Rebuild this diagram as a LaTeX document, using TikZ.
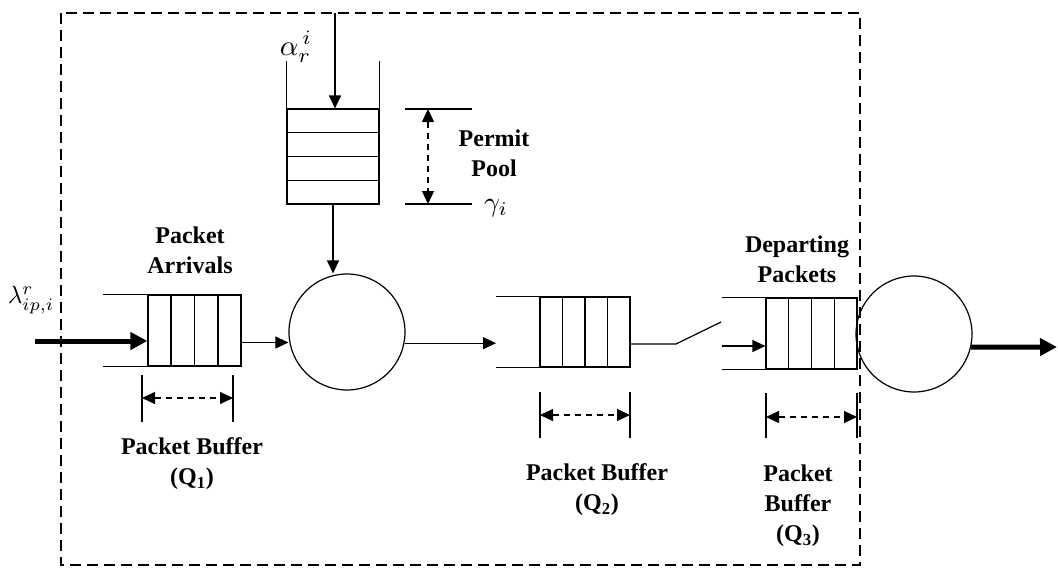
\documentclass[tikz,border=0pt]{standalone}
\usepackage{fontspec}
\setmainfont{Liberation Serif}
\usetikzlibrary{arrows.meta,calc}
\begin{document}
\begin{tikzpicture}[x=1pt,y=-1pt,line width=1.2pt,
 lbl/.style={font=\fontsize{24}{30}\selectfont\bfseries,align=center,inner sep=0pt},
 mlbl/.style={inner sep=0pt},
 qbox/.style={draw,minimum width=92pt,minimum height=71pt,inner sep=0pt},
 pbox/.style={draw,minimum width=92pt,minimum height=95pt,inner sep=0pt},
 srv/.style={draw,circle,minimum size=116pt,inner sep=0pt},
 arr/.style={-{Triangle[length=13pt,width=12pt]}},
 thk/.style={line width=5pt,-{Triangle[length=17pt,width=17pt]}},
 dimarr/.style={dash pattern=on 6pt off 5pt,{Triangle[length=13pt,width=12pt]}-{Triangle[length=13pt,width=12pt]}},
 bound/.style={dash pattern=on 11pt off 6pt,line width=1.2pt}]
\useasboundingbox (0,0) rectangle (1058,570);

% boundary
\draw[bound] (61,13) rectangle (860,565);
\coordinate (atop) at (335,13);

% permit pool
\node[pbox] (pool) at (333,156.5) {};
\foreach \f in {0.25,0.5,0.75}
  \draw ($(pool.north west)!\f!(pool.south west)$) -- ($(pool.north east)!\f!(pool.south east)$);
\draw (pool.north west) -- ++(0,-47);
\draw (pool.north east) -- ++(0,-47);

% servers
\node[srv] (c1) at (347,332) {};
\node[srv] (c2) at (914,334) {};

% queues
\node[qbox,minimum width=93pt] (q1) at (194.5,330.5) {};
\node[qbox,minimum width=90pt,minimum height=70pt] (q2) at (585,332) {};
\node[qbox,minimum width=91pt] (q3) at (811.5,333.5) {};
\foreach \q in {q1,q2,q3}
  \foreach \f in {0.25,0.5,0.75}
    \draw ($(\q.north west)!\f!(\q.north east)$) -- ($(\q.south west)!\f!(\q.south east)$);
\coordinate (q1in) at (103,330);
\coordinate (q2in) at (496,332);
\coordinate (q3in) at (722,334);
\draw (q1in |- q1.north) -- (q1.north west);
\draw (q1in |- q1.south) -- (q1.south west);
\draw (q2in |- q2.north) -- (q2.north west);
\draw (q2in |- q2.south) -- (q2.south west);
\draw (q3in |- q3.north) -- (q3.north west);
\draw (q3in |- q3.south) -- (q3.south west);

% flow arrows
\coordinate (lin) at (35,341);
\draw[thk] (lin) -- (lin -| q1.west);
\draw[arr] ([yshift=-12pt]q1.east) -- ([yshift=-12pt]q1.east -| c1.west);
\draw[arr] (atop) -- (atop |- pool.north);
\draw[arr] (pool.south) -- (pool.south |- c1.north);
\draw[arr] (c1.-11) -- (c1.-11 -| q2in);
\coordinate (sw1) at (676,344);
\coordinate (sw2) at (721,322);
\draw ([yshift=-12pt]q2.east) -- (sw1) -- (sw2);
\coordinate (q3a) at (722,346);
\draw[arr] (q3a) -- (q3a -| q3.west);
\coordinate (out) at (1057,347);
\draw[thk] (c2.-13) -- (out);

% permit dimension
\coordinate (pt1) at (405,109);
\coordinate (pt2) at (472,109);
\coordinate (pb1) at (405,204);
\coordinate (pb2) at (472,204);
\draw (pt1) -- (pt2);
\draw (pb1) -- (pb2);
\coordinate (pa1) at (428,109);
\coordinate (pa2) at (428,204);
\draw[dimarr] (pa1) -- (pa2);

% buffer dimensions
\coordinate (d1a) at (142,375); \coordinate (d1b) at (233,375);
\draw (d1a) -- ++(0,47); \draw (d1b) -- ++(0,47);
\draw[dimarr] ($(d1a)+(0,23)$) -- ($(d1b)+(0,23)$);
\coordinate (d2a) at (540,392); \coordinate (d2b) at (630,392);
\draw (d2a) -- ++(0,46); \draw (d2b) -- ++(0,46);
\draw[dimarr] ($(d2a)+(0,23)$) -- ($(d2b)+(0,23)$);
\coordinate (d3a) at (766,393); \coordinate (d3b) at (857,393);
\draw (d3a) -- ++(0,45); \draw (d3b) -- ++(0,45);
\draw[dimarr] ($(d3a)+(0,24)$) -- ($(d3b)+(0,24)$);

% labels
\node[lbl] (larr) at (190,250) {Packet\\Arrivals};
\node[lbl] (lq1) at (192,464) {Packet Buffer\\(Q\textsubscript{1})};
\node[lbl] (lq2) at (597,490) {Packet Buffer\\(Q\textsubscript{2})};
\node[lbl] (lq3) at (798,506) {Packet\\Buffer\\(Q\textsubscript{3})};
\node[lbl] (ldep) at (797,259) {Departing\\Packets};
\node[lbl] (lperm) at (494,153) {Permit\\Pool};
\node[mlbl] (alpha) at (296,47) {\scalebox{2.9}{$\alpha_{r}^{\,i}$}};
\node[mlbl] (lambda) at (31,300) {\scalebox{2.5}{$\lambda_{ip,i}^{r}$}};
\node[mlbl] (gamma) at (496,208) {\scalebox{2.8}{$\gamma_i$}};
\end{tikzpicture}
\end{document}
